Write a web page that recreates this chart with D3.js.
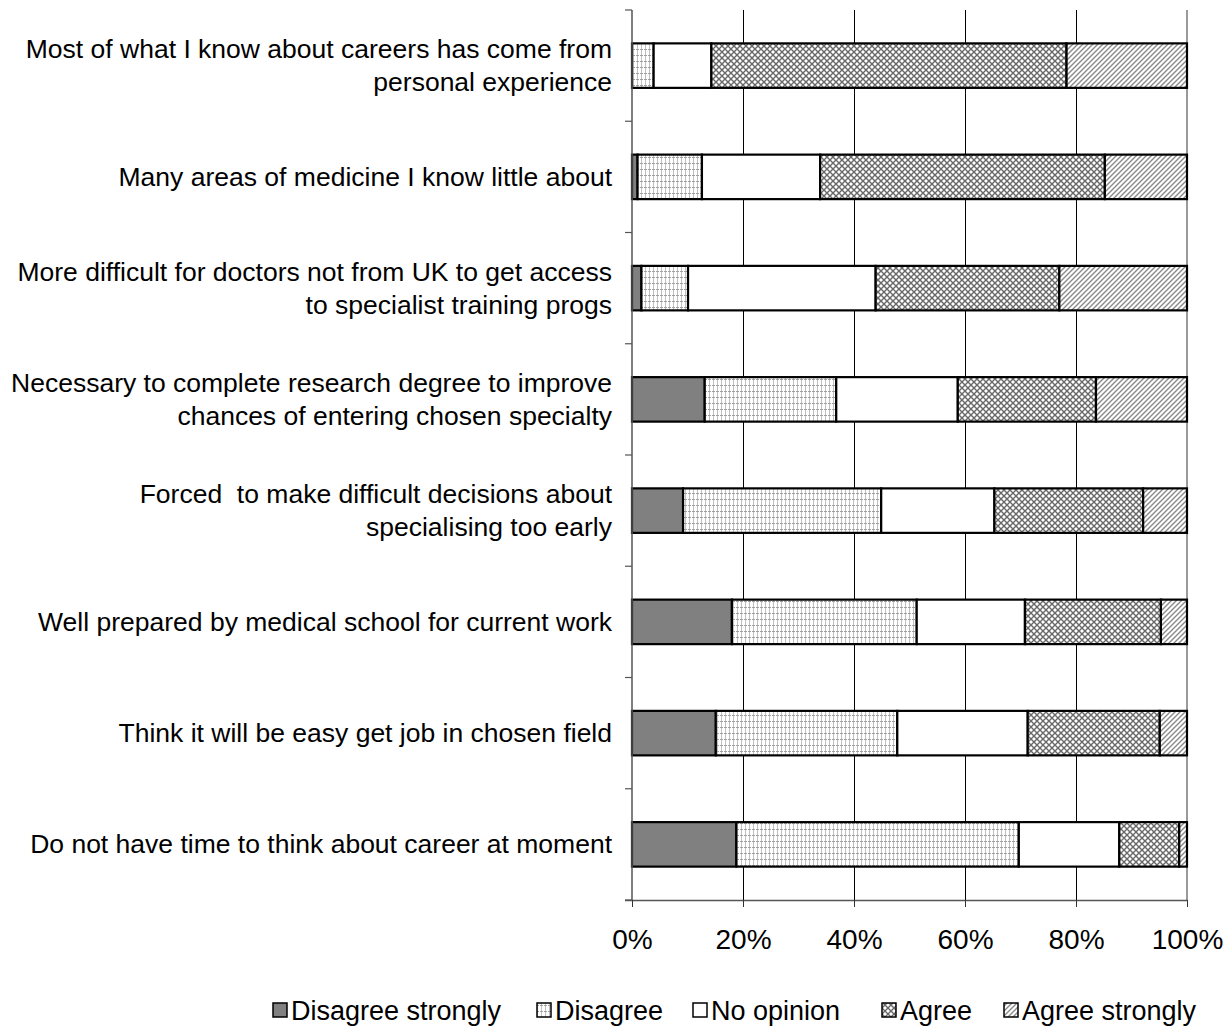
<!DOCTYPE html>
<html>
<head>
<meta charset="utf-8">
<script src="https://cdn.jsdelivr.net/npm/d3@7"></script>
<style>
  html, body { margin: 0; padding: 0; background: #fff; }
  svg text { font-family: "Liberation Sans", Arial, sans-serif; fill: #000; white-space: pre; }
</style>
</head>
<body>
<svg id="chart" width="1230" height="1026"></svg>
<script>
// Survey statements, top to bottom (each may wrap to two lines)
const categories = [
  ["Most of what I know about careers has come from", "personal experience"],
  ["Many areas of medicine I know little about"],
  ["More difficult for doctors not from UK to get access", "to specialist training progs"],
  ["Necessary to complete research degree to improve", "chances of entering chosen specialty"],
  ["Forced  to make difficult decisions about", "specialising too early"],
  ["Well prepared by medical school for current work"],
  ["Think it will be easy get job in chosen field"],
  ["Do not have time to think about career at moment"]
];

// Response levels, in stacking order
const seriesNames = ["Disagree strongly", "Disagree", "No opinion", "Agree", "Agree strongly"];

// Percent of respondents per statement, one array per response level
const disagreeStrongly = [0.0, 1.0, 1.7, 13.1, 9.2, 18.0, 15.1, 18.8];
const disagree         = [3.9, 11.6, 8.4, 23.7, 35.7, 33.3, 32.7, 50.9];
const noOpinion        = [10.4, 21.3, 33.8, 21.9, 20.4, 19.5, 23.5, 18.1];
const agree            = [64.0, 51.3, 33.1, 24.9, 26.8, 24.5, 23.8, 10.8];
const agreeStrongly    = [21.7, 14.8, 23.0, 16.4, 7.9, 4.7, 4.9, 1.4];

const tickValues = [0, 20, 40, 60, 80, 100];
const tickLabels = ["0%", "20%", "40%", "60%", "80%", "100%"];

const seriesValues = [disagreeStrongly, disagree, noOpinion, agree, agreeStrongly];

const svg = d3.select("#chart");
const margin = { left: 632, right: 43, top: 10, bottom: 126 };
const W = 1230, H = 1026;
const innerW = W - margin.left - margin.right;
const innerH = H - margin.top - margin.bottom;

// Fill patterns
const defs = svg.append("defs");

const pDis = defs.append("pattern").attr("id", "pat-disagree")
  .attr("patternUnits", "userSpaceOnUse").attr("width", 4).attr("height", 6);
pDis.append("rect").attr("width", 4).attr("height", 6).attr("fill", "#fff");
pDis.append("rect").attr("x", 1).attr("y", 0).attr("width", 1).attr("height", 6).attr("fill", "#c0c0c0");
pDis.append("rect").attr("x", 0).attr("y", 3).attr("width", 3).attr("height", 1).attr("fill", "#a0a0a0");

const pAg = defs.append("pattern").attr("id", "pat-agree")
  .attr("patternUnits", "userSpaceOnUse").attr("width", 6).attr("height", 6);
pAg.append("rect").attr("width", 6).attr("height", 6).attr("fill", "#fff");
pAg.append("path").attr("d", "M0,0 L6,6 M6,0 L0,6")
  .attr("stroke", "#686868").attr("stroke-width", 1.4).attr("fill", "none");

const pAs = defs.append("pattern").attr("id", "pat-agree-strongly")
  .attr("patternUnits", "userSpaceOnUse").attr("width", 5).attr("height", 5);
pAs.append("rect").attr("width", 5).attr("height", 5).attr("fill", "#fff");
pAs.append("path").attr("d", "M-1,1 L1,-1 M0,5 L5,0 M4,6 L6,4")
  .attr("stroke", "#8a8a8a").attr("stroke-width", 1.4);

const fills = ["#808080", "url(#pat-disagree)", "#ffffff", "url(#pat-agree)", "url(#pat-agree-strongly)"];

const g = svg.append("g").attr("transform", `translate(${margin.left},${margin.top})`);

const x = d3.scaleLinear().domain([0, 100]).range([0, innerW]);
const y = d3.scaleBand().domain(d3.range(categories.length)).range([0, innerH]).paddingInner(0.6).paddingOuter(0.3);
const yEdges = d3.scaleLinear().domain([0, categories.length]).range([0, innerH]);

// Vertical gridlines
g.append("g").selectAll("line").data(tickValues.slice(1)).join("line")
  .attr("x1", d => x(d)).attr("x2", d => x(d))
  .attr("y1", 0).attr("y2", innerH)
  .attr("stroke", d => d === 100 ? "#9a9a9a" : "#000")
  .attr("stroke-width", d => d === 100 ? 2 : 1)
  .attr("shape-rendering", "crispEdges");

// Stacked bars
const rows = categories.map((c, i) => {
  let acc = 0;
  return seriesValues.map((vals, s) => {
    const seg = { row: i, s, x0: acc, x1: acc + vals[i] };
    acc += vals[i];
    return seg;
  });
}).flat().filter(d => d.x1 - d.x0 > 0);

g.append("g").selectAll("rect").data(rows).join("rect")
  .attr("x", d => x(d.x0))
  .attr("width", d => x(d.x1) - x(d.x0))
  .attr("y", d => y(d.row))
  .attr("height", y.bandwidth())
  .attr("fill", d => fills[d.s])
  .attr("stroke", "#000")
  .attr("stroke-width", 2.2);

// Left axis with ticks on category boundaries
g.append("line").attr("x1", 0).attr("x2", 0).attr("y1", 0).attr("y2", innerH)
  .attr("stroke", "#555").attr("stroke-width", 1.5);
g.append("g").selectAll("line").data(d3.range(categories.length + 1)).join("line")
  .attr("x1", -7).attr("x2", 0)
  .attr("y1", d => yEdges(d)).attr("y2", d => yEdges(d))
  .attr("stroke", "#555").attr("stroke-width", 1.2);

// Bottom axis
const xAxis = d3.axisBottom(x).tickValues(tickValues)
  .tickFormat((d, i) => tickLabels[i]).tickSize(7).tickPadding(22);
const xa = g.append("g").attr("transform", `translate(0,${innerH})`).call(xAxis);
xa.select(".domain").attr("stroke", "#555").attr("stroke-width", 1.5)
  .attr("d", `M-7,0.5H${innerW}`);
xa.selectAll(".tick line").attr("stroke", "#333");
xa.selectAll(".tick text").attr("font-size", 28).attr("font-family", "Liberation Sans, Arial, sans-serif").attr("fill", "#000");

// Category labels, right-aligned beside the axis
const lineH = 33;
const labels = g.append("g").selectAll("text").data(categories).join("text")
  .attr("text-anchor", "end")
  .attr("font-size", 26.5)
  .attr("x", -20)
  .attr("y", (d, i) => y(i) + y.bandwidth() / 2);
labels.each(function (lines) {
  const t = d3.select(this);
  const off = -(lines.length - 1) * lineH / 2;
  lines.forEach((ln, k) => {
    t.append("tspan").attr("x", -20).attr("dy", k === 0 ? off + 9 : lineH).text(ln);
  });
});

// Legend
const legendX = [273, 537, 693, 882, 1004];
const legendY = 1010;
const lg = svg.append("g");
seriesNames.forEach((name, i) => {
  lg.append("rect").attr("x", legendX[i]).attr("y", legendY - 7)
    .attr("width", 14).attr("height", 14)
    .attr("fill", fills[i]).attr("stroke", "#000").attr("stroke-width", 1.5);
  lg.append("text").attr("x", legendX[i] + 18).attr("y", legendY + 10)
    .attr("font-size", 27).text(name);
});
</script>
</body>
</html>
